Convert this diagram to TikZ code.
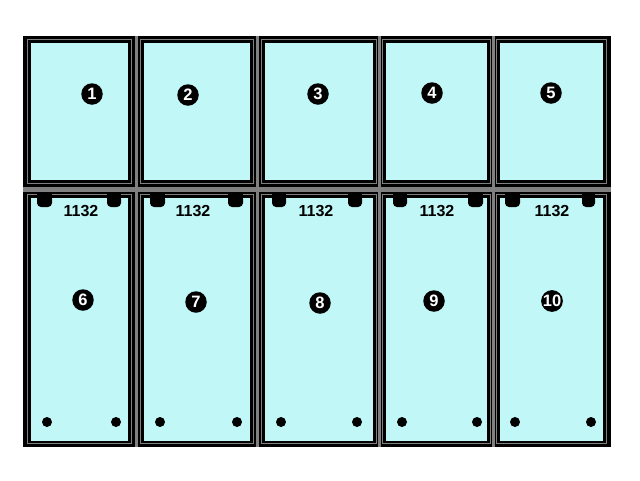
\documentclass[tikz,border=0pt]{standalone}
\usepackage{fontspec}
\setmainfont{Liberation Sans}
\definecolor{panelc}{RGB}{193,247,247}
\definecolor{framegrey}{RGB}{128,128,128}
\tikzset{
  num/.style={circle,fill=black,text=white,minimum size=21.5pt,inner sep=0pt,font=\fontsize{16.5}{16.5}\selectfont\bfseries},
  code/.style={inner sep=0pt,font=\fontsize{16}{16}\selectfont\bfseries,text=black},
  thinline/.style={draw=framegrey,line width=1pt},
  glass/.style={fill=panelc},
  knob/.style={fill=black,rounded corners=4pt},
  band/.style={fill=framegrey},
  dot/.style={circle,fill=black,minimum size=10pt,inner sep=0pt}
}
\begin{document}
\begin{tikzpicture}[x=1pt,y=-1pt]
\useasboundingbox (0,0) rectangle (640,480);
\fill[white] (0,0) rectangle (640,480);
% outer frame
\fill[black] (23,36) rectangle (611,447);
% thick grey bands
\fill[band] (23,187) rectangle (611,191.5);
\foreach \c in {134.5,256,378,492}{
  \fill[band] (\c,36) rectangle ({\c+3},447);
}
% panels: left right
\foreach \l/\r in {31/128,144/250,265/373,386/487,500/603}{
  \draw[thinline] ({\l-3.5},39.5) rectangle ({\r+3},183);
  \fill[glass] (\l,43) rectangle (\r,180);
  \draw[thinline] ({\l-3.5},194.5) rectangle ({\r+3},443);
  \fill[glass] (\l,198) rectangle (\r,441);
}
% knobs
\foreach \a/\b in {37/52,107/121,150/165,228/243,272/286,348/362,393/407,468/483,505/520,582/595}{
  \fill[black] (\a,193) rectangle (\b,200);
  \fill[knob] (\a,195) rectangle (\b,207);
}
% dots
\foreach \x [count=\i] in {47,116,160,237,281,357,402,477,515,591}{
  \node[dot] (d\i) at (\x,422) {};
}
% codes
\foreach \x [count=\i] in {81,193,316,437,552}{
  \node[code] (c\i) at (\x,211) {1132};
}
% numbers
\node[num] (n1) at (92,94) {1};
\node[num] (n2) at (188,95) {2};
\node[num] (n3) at (318,94) {3};
\node[num] (n4) at (432,93) {4};
\node[num] (n5) at (551,93) {5};
\node[num] (n6) at (83,300) {6};
\node[num] (n7) at (196,302) {7};
\node[num] (n8) at (320,303) {8};
\node[num] (n9) at (434,301) {9};
\node[num] (n10) at (552,301) {10};
\end{tikzpicture}
\end{document}
